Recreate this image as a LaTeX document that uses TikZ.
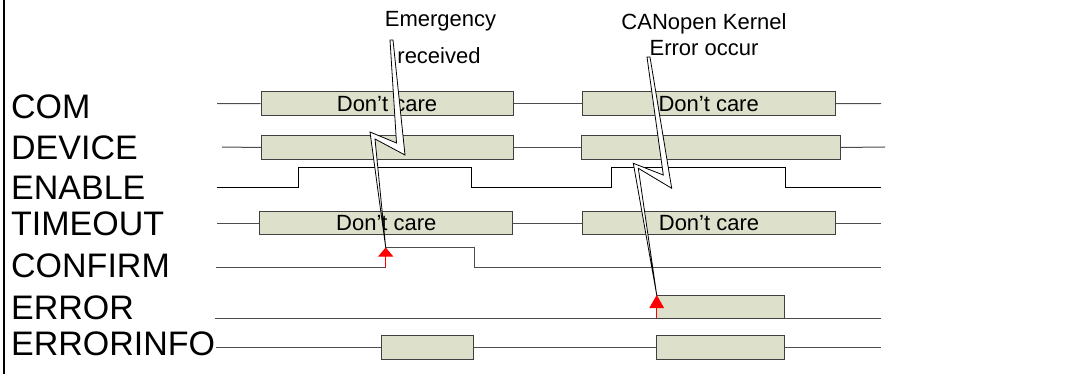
\documentclass[tikz,border=0pt]{standalone}
\usepackage{fontspec}
\setmainfont{Liberation Sans}
\usetikzlibrary{arrows.meta,positioning}
\definecolor{dcfill}{RGB}{221,224,203}
\tikzstyle{wave} = [draw, black!70, line width=1pt]
\tikzstyle{bus} = [draw=black!75, fill=dcfill, line width=1pt, inner sep=0pt, font=\fontsize{22}{26}\selectfont]
\tikzstyle{sig} = [anchor=base west, inner sep=0pt, font=\fontsize{34}{40}\selectfont]
\tikzstyle{note} = [anchor=base, inner sep=0pt, font=\fontsize{22}{26}\selectfont]
\tikzstyle{bolt} = [draw, fill=white, line width=0.8pt, line join=miter]
\tikzstyle{trig} = [draw, red, line width=1pt]

\begin{document}
\begin{tikzpicture}[x=1pt, y=-1pt]
    \useasboundingbox (0,0) rectangle (1076,374);
    \draw [line width=2.3pt] (3.8,0) -- (3.8,374);

    % signal names
    \node [sig] (lcom) at (11,118.5) {COM};
    \node [sig] (ldev) at (11,159.5) {DEVICE};
    \node [sig] (len) at (11,199.5) {ENABLE};
    \node [sig] (lto) at (11,235.5) {TIMEOUT};
    \node [sig] (lconf) at (11,277.5) {CONFIRM};
    \node [sig] (lerr) at (11,319.5) {ERROR};
    \node [sig] (linfo) at (11,355.5) {ERRORINFO};

    % COM
    \coordinate (com-a) at (217,103.5);
    \coordinate (com-b) at (881,103.5);
    \node [bus, minimum width=252pt, minimum height=24pt] (com1) at (387,103.7) {Don’t care};
    \node [bus, minimum width=253pt, minimum height=24pt] (com2) at (708.7,103.7) {Don’t care};
    \path [wave] (com-a) -- (com1.west);
    \path [wave] (com1.east) -- (com2.west);
    \path [wave] (com2.east) -- (com-b);

    % DEVICE
    \coordinate (dev-a) at (222,147);
    \coordinate (dev-b) at (885,147);
    \node [bus, minimum width=251.6pt, minimum height=23.6pt] (dev1) at (387.5,147.5) {};
    \node [bus, minimum width=259pt, minimum height=23.6pt] (dev2) at (710.5,147.5) {};
    \path [wave] (dev-a) -- (dev1.west);
    \path [wave] (dev1.east) -- (dev2.west);
    \path [wave] (dev2.east) -- (dev-b);

    % ENABLE
    \draw [line width=1pt] (217,187.7) -| (298.3,167.7) -| (471.7,187.7) -| (611,167.7) -| (785,187.7) -- (881,187.7);

    % TIMEOUT
    \coordinate (to-a) at (217,223.3);
    \coordinate (to-b) at (881,223.3);
    \node [bus, minimum width=252.7pt, minimum height=23.3pt] (to1) at (386.3,223.3) {Don’t care};
    \node [bus, minimum width=253.4pt, minimum height=23.3pt] (to2) at (709,223.3) {Don’t care};
    \path [wave] (to-a) -- (to1.west);
    \path [wave] (to1.east) -- (to2.west);
    \path [wave] (to2.east) -- (to-b);

    % CONFIRM
    \draw [wave] (216,267.3) -| (385.7,247.3) -| (474.3,267.3) -- (881,267.3);

    % ERROR
    \coordinate (err-a) at (215,318.3);
    \coordinate (err-b) at (881,318.3);
    \path [wave] (err-a) -- (err-b);
    \node [bus, minimum width=128.3pt, minimum height=23.3pt] (err1) at (720.8,306.7) {};

    % ERRORINFO
    \coordinate (info-a) at (216,347);
    \coordinate (info-b) at (881,347);
    \path [wave] (info-a) -- (info-b);
    \node [bus, minimum width=92.3pt, minimum height=24pt] (info1) at (427.8,347) {};
    \node [bus, minimum width=128.3pt, minimum height=24pt] (info2) at (720.8,347) {};

    % events
    \node [note] (emg1) at (440.5,26.7) {Emergency};
    \node [note] (emg2) at (439,63.3) {received};
    \node [note] (can1) at (704,29.3) {CANopen Kernel};
    \node [note] (can2) at (704,56) {Error occur};

    \draw [bolt] (390,40) -- (393,40) -- (405,155) -- (375,139) -- (385.7,247.5) -- (370,132) -- (396.5,143) -- cycle;
    \draw [bolt] (647,57) -- (650,57) -- (671.7,188.3) -- (638.3,168.3) -- (656.7,295) -- (633.3,163.3) -- (663.3,175) -- cycle;

    \coordinate (emg-foot) at (385.7,267.3);
    \coordinate (emg-tip) at (385.7,247.5);
    \coordinate (can-foot) at (656.7,318.3);
    \coordinate (can-tip) at (656.7,295);
    \path [trig, -{Triangle[length=9pt,width=15pt]}] (emg-foot) -- (emg-tip);
    \path [trig, -{Triangle[length=13pt,width=14.5pt]}] (can-foot) -- (can-tip);
\end{tikzpicture}
\end{document}
